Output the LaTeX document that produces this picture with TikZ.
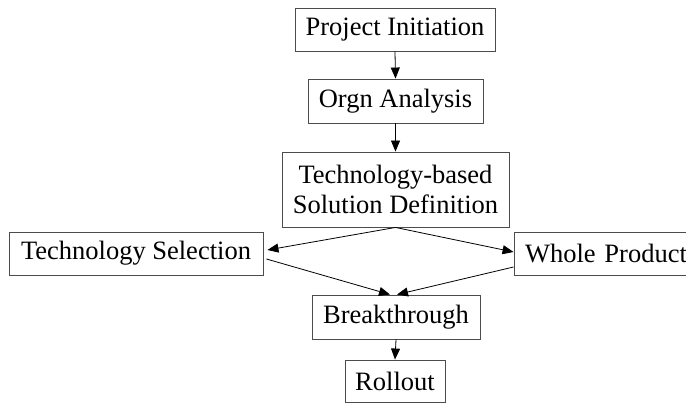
\documentclass[tikz,border=0pt]{standalone}
\usepackage{fontspec}
\setmainfont{Liberation Serif}
\usetikzlibrary{arrows.meta}
\begin{document}
\begin{tikzpicture}[x=1pt,y=-1pt,
  box/.style={draw=black!70, line width=0.9pt, inner sep=0pt, align=center,
    font=\fontsize{26.5}{30}\selectfont},
  conn/.style={draw=black, line width=0.8pt, -{Triangle[length=11pt,width=9pt]}}]
\useasboundingbox (0,0) rectangle (686,403);
\node[box, minimum width=200, minimum height=43] (proj) at (395,29.5) {Project Initiation};
\node[box, minimum width=175, minimum height=44] (orgn) at (395.5,101) {Orgn Analysis};
\node[box, minimum width=227, minimum height=75] (tech) at (395.5,189.5) {Technology-based\\Solution Definition};
\node[box, minimum width=254, minimum height=43] (sel) at (136,253.5) {Technology Selection};
\node[box, minimum width=183, minimum height=43, text width=183, align=left] (whole) at (605.5,253.5) {\hspace*{11pt}Whole Product};
\node[box, minimum width=168, minimum height=44] (brk) at (396,317) {Breakthrough};
\node[box, minimum width=100, minimum height=42] (roll) at (395,381) {Rollout};
\draw[conn] (proj.south) -- (orgn.north);
\draw[conn] (orgn.south) -- (tech.north);
\draw[conn] (tech.south) -- ([xshift=4pt,yshift=3.5pt]sel.east);
\draw[conn] (tech.south) -- ([yshift=1.5pt]whole.west);
\draw[conn] ([xshift=3pt,yshift=-5.5pt]sel.east) -- ([xshift=-6pt]brk.north);
\draw[conn] ([yshift=-13.5pt]whole.west) -- ([xshift=1pt]brk.north);
\draw[conn] (brk.south) -- (roll.north);
\end{tikzpicture}
\end{document}
